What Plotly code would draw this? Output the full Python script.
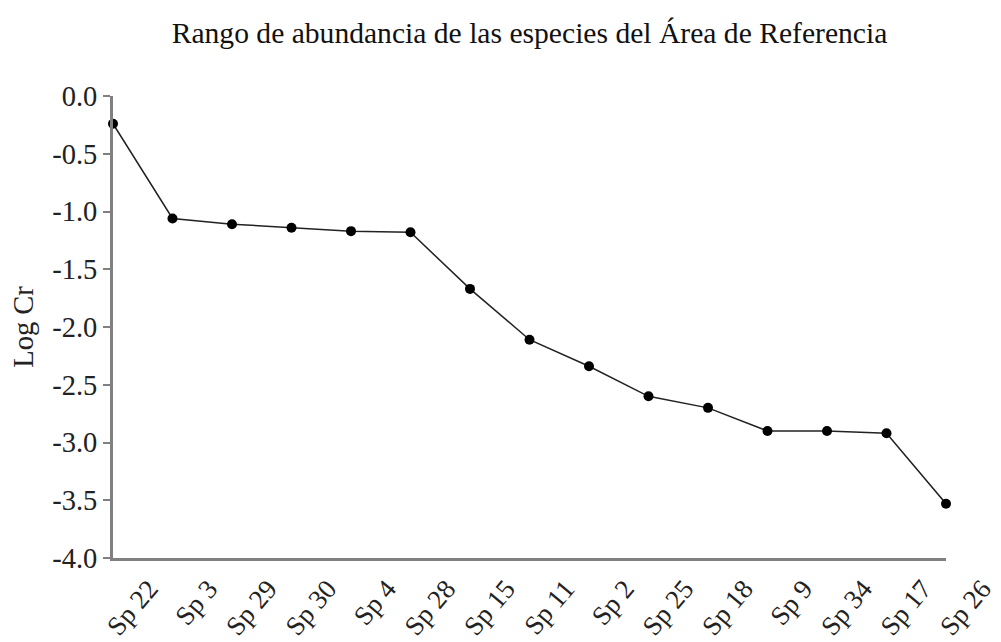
import plotly.graph_objects as go

species = ["Sp 22", "Sp 3", "Sp 29", "Sp 30", "Sp 4", "Sp 28", "Sp 15", "Sp 11",
           "Sp 2", "Sp 25", "Sp 18", "Sp 9", "Sp 34", "Sp 17", "Sp 26"]
log_cr = [-0.24, -1.06, -1.11, -1.14, -1.17, -1.18, -1.67, -2.11,
          -2.34, -2.60, -2.70, -2.90, -2.90, -2.92, -3.53]
y_ticks = [0.0, -0.5, -1.0, -1.5, -2.0, -2.5, -3.0, -3.5, -4.0]

font_family = "Liberation Serif, Times New Roman, serif"
fs = 28.5

# the page places the figure 8px in from the window's top-left corner
W, H = 993, 634

fig = go.Figure(go.Scatter(
    x=species, y=log_cr, mode="lines+markers",
    line=dict(color="#222222", width=1.5),
    marker=dict(color="#000000", size=10),
    cliponaxis=False,
))

fig.update_layout(
    width=W, height=H,
    margin=dict(l=105, r=55, t=88, b=84, autoexpand=False),
    paper_bgcolor="white", plot_bgcolor="white",
    showlegend=False,
    font=dict(family=font_family, color="#222222", size=fs),
    title=dict(text="Rango de abundancia de las especies del Área de Referencia",
               x=0.5, xref="paper", xanchor="center",
               y=1 - 25 / H, yref="container", yanchor="middle",
               font=dict(family=font_family, size=29.6, color="#111111")),
)

fig.update_xaxes(
    type="category", range=[0, len(species) - 1],
    showgrid=False, zeroline=False, automargin=False,
    showline=True, linecolor="#808080", linewidth=3,
    ticks="", tickangle=-50,
    ticklabelshift=36, ticklabelstandoff=1,
    tickfont=dict(family=font_family, size=27, color="#222222"),
)
fig.update_yaxes(
    range=[-4, 0], tickvals=y_ticks, ticktext=[f"{v:.1f}" for v in y_ticks],
    showgrid=False, zeroline=False, automargin=False,
    showline=True, linecolor="#808080", linewidth=3,
    ticks="outside", ticklen=7, tickwidth=2, tickcolor="#808080",
    tickfont=dict(family=font_family, size=fs, color="#222222"),
    title=dict(text="Log Cr", standoff=12,
               font=dict(family=font_family, size=fs, color="#222222")),
)

fig.write_html("out.html")
